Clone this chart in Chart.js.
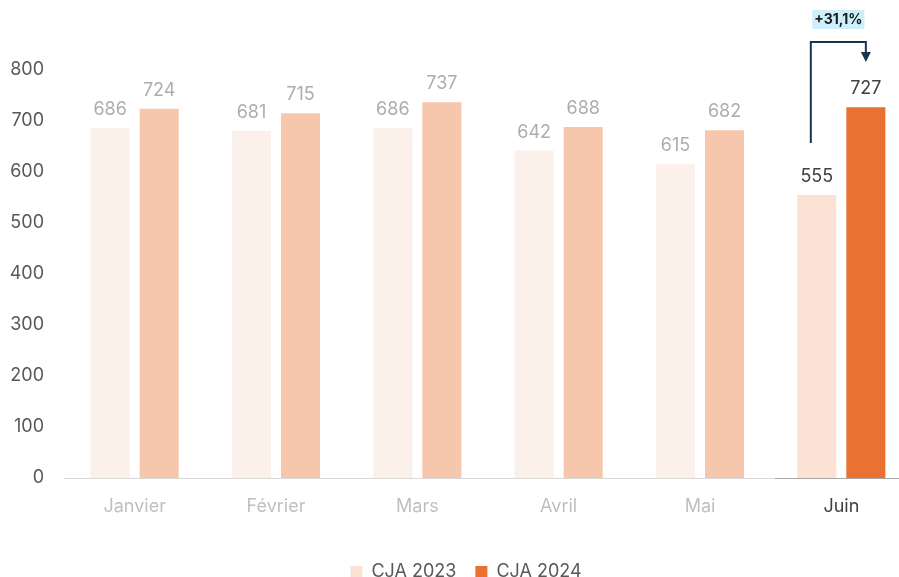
<!DOCTYPE html>
<html>
<head>
<meta charset="utf-8">
<script src="https://cdn.jsdelivr.net/npm/chart.js@4/dist/chart.umd.min.js"></script>
<style>
html,body{margin:0;padding:0;overflow:hidden;background:#fff;width:899px;height:577px;}
#wrap{width:930px;height:591px;position:relative;}
</style>
</head>
<body>
<div id="wrap"><canvas id="c" width="930" height="591"></canvas></div>
<script>
const categories = ["Janvier","Février","Mars","Avril","Mai","Juin"];
const cja2023 = [686,681,686,642,615,555];
const cja2024 = [724,715,737,688,682,727];
const seriesNames = ["CJA 2023","CJA 2024"];
const yTicks = [0,100,200,300,400,500,600,700,800];
const growthLabel = "+31,1%";

const FONT = "Inter, 'Open Sans', sans-serif";
const c23 = categories.map((_,i)=> i===categories.length-1 ? "#FBE2D5" : "#FCF0EB");
const c24 = categories.map((_,i)=> i===categories.length-1 ? "#E97132" : "#F6C6AD");

const overlay = {
  id:'overlay',
  afterLayout(chart){
    if (chart.legend) { chart.legend.left += 10; chart.legend.right += 10; }
  },
  afterDatasetsDraw(chart){
    const ctx = chart.ctx;
    const last = categories.length-1;
    ctx.save();
    ctx.font = "18px " + FONT;
    ctx.textAlign = "center";
    ctx.textBaseline = "alphabetic";
    chart.data.datasets.forEach((ds,di)=>{
      const meta = chart.getDatasetMeta(di);
      meta.data.forEach((bar,i)=>{
        ctx.fillStyle = i===last ? "#404040" : "#ADADAD";
        ctx.fillText(String(ds.data[i]), bar.x, bar.y - 13);
      });
    });
    const ca = chart.chartArea;
    const y0 = chart.scales.y.getPixelForValue(0);
    const xs = chart.scales.x;
    const splitX = xs.getPixelForValue(last) - xs.width/categories.length/2 + 4;
    ctx.lineWidth = 1;
    ctx.strokeStyle = "#D9D9D9";
    ctx.beginPath(); ctx.moveTo(ca.left, y0+0.5); ctx.lineTo(splitX, y0+0.5); ctx.stroke();
    ctx.strokeStyle = "#A6A6A6";
    ctx.beginPath(); ctx.moveTo(splitX, y0+0.5); ctx.lineTo(ca.right, y0+0.5); ctx.stroke();
    const b1 = chart.getDatasetMeta(0).data[last];
    const b2 = chart.getDatasetMeta(1).data[last];
    const lx = b1.x - 6, rx = b2.x;
    const topY = 42;
    const startY = b1.y - 52;
    ctx.strokeStyle = "#1B3450";
    ctx.lineWidth = 2;
    ctx.beginPath();
    ctx.moveTo(lx, startY); ctx.lineTo(lx, topY); ctx.lineTo(rx, topY); ctx.lineTo(rx, topY+12);
    ctx.stroke();
    ctx.fillStyle = "#1B3450";
    ctx.beginPath();
    ctx.moveTo(rx-5, topY+10); ctx.lineTo(rx+5, topY+10); ctx.lineTo(rx, topY+20); ctx.closePath(); ctx.fill();
    ctx.font = "bold 14px " + FONT;
    const cx = (lx+rx)/2;
    const tw = ctx.measureText(growthLabel).width;
    ctx.fillStyle = "#CDEEFB";
    ctx.fillRect(cx - tw/2 - 2, 10, tw + 4, 19);
    ctx.fillStyle = "#1A1A1A";
    ctx.textBaseline = "middle";
    ctx.fillText(growthLabel, cx, 20);
    ctx.restore();
  }
};

new Chart(document.getElementById('c'), {
  type:'bar',
  data:{
    labels: categories,
    datasets:[
      {label: seriesNames[0], data: cja2023, backgroundColor: c23, categoryPercentage:0.694, barPercentage:0.796},
      {label: seriesNames[1], data: cja2024, backgroundColor: c24, categoryPercentage:0.694, barPercentage:0.796}
    ]
  },
  options:{
    responsive:false,
    animation:false,
    layout:{padding:{top:70,right:18,left:0,bottom:0}},
    plugins:{
      tooltip:{enabled:false},
      legend:{
        position:'bottom',
        labels:{
          font:{family:FONT,size:18},
          color:"#595959",
          boxWidth:12, boxHeight:12,
          padding:19,
          generateLabels(chart){
            return seriesNames.map((n,i)=>({
              text:n, fillStyle: i===0 ? "#FBE2D5" : "#E97132", strokeStyle:'rgba(0,0,0,0)', lineWidth:0, datasetIndex:i, fontColor:"#595959"
            }));
          }
        }
      }
    },
    scales:{
      x:{
        grid:{display:false},
        border:{display:false},
        afterFit(scale){ scale.height = 66; },
        ticks:{
          font:{family:FONT,size:18},
          color:(ctx)=> ctx.index===categories.length-1 ? "#404040" : "#BFBFBF",
          padding:10
        }
      },
      y:{
        min:0, max:800,
        afterBuildTicks(scale){ scale.ticks = yTicks.map(v=>({value:v})); },
        afterFit(scale){ scale.width = 64; },
        grid:{display:false},
        border:{display:false},
        ticks:{font:{family:FONT,size:18}, color:"#595959", padding:12}
      }
    }
  },
  plugins:[overlay]
});
</script>
</body>
</html>
